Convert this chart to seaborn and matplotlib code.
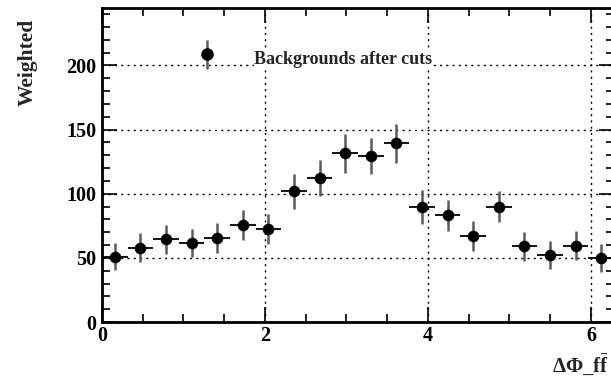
import numpy as np
import pandas as pd
import matplotlib
matplotlib.use("Agg")
import matplotlib.pyplot as plt
from matplotlib.ticker import MultipleLocator
import seaborn as sns

# Histogram of backgrounds in delta-phi, 20 bins over [0, 2*pi]
n_bins = 20
bin_edges = np.linspace(0, 2 * np.pi, n_bins + 1)
bin_centers = 0.5 * (bin_edges[:-1] + bin_edges[1:])
counts = [50.9, 57.9, 64.4, 61.6, 65.7, 75.6, 72.5, 101.9, 112.2, 131.5,
          129.4, 139.3, 89.9, 83.1, 67.0, 89.9, 59.2, 52.0, 59.5, 49.9]
errors = [10.7, 11.4, 11.6, 11.0, 11.6, 11.8, 11.7, 13.6, 14.2, 15.1,
          14.3, 15.0, 13.2, 12.3, 11.4, 12.3, 11.3, 10.8, 11.3, 10.7]
legend_label = "Backgrounds after cuts"
x_title = "ΔΦ_f$\\bar{\\mathrm{f}}$"
y_title = "Weighted"

df = pd.DataFrame({"x": bin_centers, "y": counts, "err": errors})

sns.set_style("ticks")
plt.rcParams["font.family"] = ["Liberation Serif", "DejaVu Serif"]
plt.rcParams["font.weight"] = "bold"
plt.rcParams["mathtext.fontset"] = "custom"
plt.rcParams["mathtext.rm"] = "Liberation Serif:bold"

W, H = 611, 378
fig = plt.figure(figsize=(W / 100, H / 100), dpi=100)
ax_left, ax_right, ax_top, ax_bottom = 102, 614, 7.7, 322
ax = fig.add_axes([ax_left / W, 1 - ax_bottom / H,
                   (ax_right - ax_left) / W, (ax_bottom - ax_top) / H])

bin_w = bin_edges[1] - bin_edges[0]
# vertical (statistical) error bars
ax.errorbar(df["x"], df["y"], yerr=df["err"], fmt="none",
            ecolor="#5a5a5a", elinewidth=1.8, capsize=0, zorder=3)
# horizontal bin-width bars
ax.errorbar(df["x"], df["y"], xerr=bin_w / 2, fmt="none",
            ecolor="black", elinewidth=1.3, capsize=0, zorder=3)
sns.scatterplot(data=df, x="x", y="y", ax=ax, color="black", s=70,
                edgecolor="black", linewidth=0, zorder=4, legend=False)

ax.set_xlim(0, 2 * np.pi)
ax.set_ylim(0, 245)
ax.set_xlabel("")
ax.set_ylabel("")

ax.xaxis.set_major_locator(MultipleLocator(2))
ax.xaxis.set_minor_locator(MultipleLocator(0.5))
ax.yaxis.set_major_locator(MultipleLocator(50))
ax.yaxis.set_minor_locator(MultipleLocator(10))
ax.tick_params(which="both", direction="in", top=True, right=True,
               width=1.2, labelsize=14.5, colors="black")
ax.tick_params(which="major", length=11)
ax.tick_params(which="minor", length=6)
ax.tick_params(axis="x", pad=3)
ax.tick_params(axis="y", pad=4)
for lab in ax.get_xticklabels() + ax.get_yticklabels():
    lab.set_fontweight("bold")

ax.grid(True, which="major", linestyle=(0, (1.5, 3)), color="black",
        linewidth=1.0)
for sp in ax.spines.values():
    sp.set_linewidth(2)
    sp.set_color("black")

# legend entry: marker with error bar and label
lx, ly = 1.29, 208.6
ax.errorbar([lx], [ly], yerr=[11.5], fmt="none", ecolor="#5a5a5a",
            elinewidth=1.8, zorder=3)
ax.plot([lx], [ly], "o", color="black", ms=8, zorder=4)
ax.text(1.87, 204.5, legend_label, fontsize=13, fontweight="bold",
        va="center", ha="left", zorder=5,
        bbox=dict(facecolor="white", edgecolor="none", pad=0.3))

fig.text(28 / W, 1 - 19 / H, y_title, rotation=90, ha="center", va="top",
         fontsize=15.5, fontweight="bold")
fig.text(609 / W, 1 - 365 / H, x_title, ha="right", va="center",
         fontsize=15, fontweight="bold")

fig.savefig("out.png", dpi=100)
